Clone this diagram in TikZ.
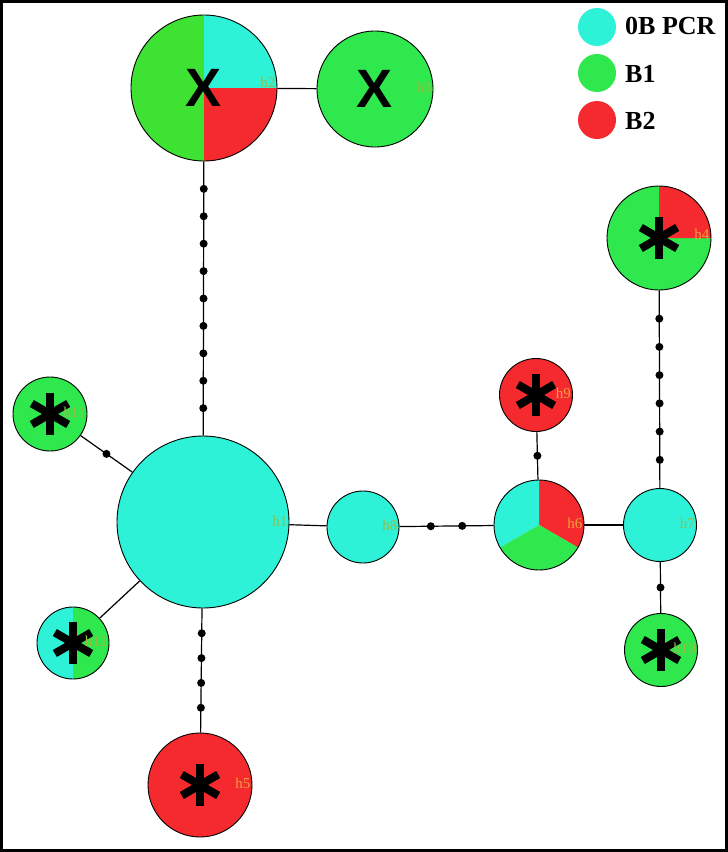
\documentclass[tikz,border=0pt]{standalone}
\usepackage{fontspec}
\setmainfont{Liberation Serif}
\newfontfamily\xfont{Liberation Sans}
\usetikzlibrary{calc}
\definecolor{cy}{HTML}{2EF2D8}
\definecolor{gr}{HTML}{2EE84E}
\definecolor{grb}{HTML}{3EE232}
\definecolor{rd}{HTML}{F42A2E}
\definecolor{lgr}{HTML}{9DBA40}
\definecolor{lor}{HTML}{F2A03C}
\tikzset{
  hap/.style={circle, draw=black, line width=0.9pt, inner sep=0pt},
  edge/.style={line width=1.2pt},
  mut/.style={circle, fill=black, inner sep=0pt, minimum size=8pt},
  lab/.style={anchor=east, font=\fontsize{15}{15}\selectfont, inner sep=0pt},
  leg/.style={anchor=west, font=\fontsize{26}{26}\selectfont\bfseries, inner sep=0pt},
  legdot/.style={circle, inner sep=0pt, minimum size=38pt},
  xmark/.style={font=\xfont\bfseries\fontsize{54}{54}\selectfont, inner sep=0pt},
  astarm/.style={line width=8pt},
}
\newcommand\pieslice[5]{\fill[#5] (#1) -- ++(#3:#2) arc[start angle=#3,end angle=#4,radius=#2] -- cycle;}
\newcommand\astmark[1]{%
  \foreach \a in {90,30,150}{\draw[astarm] ($(#1)+(\a:21pt)$) -- ($(#1)+(\a+180:21pt)$);}}
\begin{document}
\begin{tikzpicture}
\useasboundingbox (0,0) rectangle (728pt,-852pt);
\fill[white] (0,0) rectangle (728pt,-852pt);

% centres
\coordinate (c1) at (203pt,-522pt);
\coordinate (c2) at (204pt,-88pt);
\coordinate (c4) at (659pt,-238pt);
\coordinate (c6) at (539pt,-525pt);
\coordinate (c12) at (73pt,-643pt);

% pie slices
\pieslice{c2}{73pt}{90}{270}{grb}
\pieslice{c2}{73pt}{0}{90}{cy}
\pieslice{c2}{73pt}{-90}{0}{rd}
\pieslice{c4}{52pt}{90}{360}{gr}
\pieslice{c4}{52pt}{0}{90}{rd}
\pieslice{c6}{45pt}{-30}{90}{rd}
\pieslice{c6}{45pt}{90}{210}{cy}
\pieslice{c6}{45pt}{210}{330}{gr}
\pieslice{c12}{36pt}{90}{270}{cy}
\pieslice{c12}{36pt}{-90}{90}{gr}

% haplotype nodes
\node[hap, fill=cy, minimum size=172pt] (h1) at (c1) {};
\node[hap, minimum size=146pt] (h2) at (c2) {};
\node[hap, fill=gr, minimum size=116pt] (h3) at (375pt,-89pt) {};
\node[hap, minimum size=104pt] (h4) at (c4) {};
\node[hap, fill=rd, minimum size=104pt] (h5) at (200pt,-785pt) {};
\node[hap, minimum size=90pt] (h6) at (c6) {};
\node[hap, fill=cy, minimum size=73pt] (h7) at (660pt,-525pt) {};
\node[hap, fill=cy, minimum size=72pt] (h8) at (363pt,-527pt) {};
\node[hap, fill=rd, minimum size=73pt] (h9) at (536pt,-395pt) {};
\node[hap, fill=gr, minimum size=73pt] (h10) at (661pt,-650pt) {};
\node[hap, fill=gr, minimum size=74pt] (h11) at (50pt,-414pt) {};
\node[hap, minimum size=72pt] (h12) at (c12) {};

% connectors with mutation dots
\draw[edge] (h2) -- (h3);
\draw[edge] (h2) -- (h1)
  node[mut,pos=.1]{} node[mut,pos=.2]{} node[mut,pos=.3]{}
  node[mut,pos=.4]{} node[mut,pos=.5]{} node[mut,pos=.6]{}
  node[mut,pos=.7]{} node[mut,pos=.8]{} node[mut,pos=.9]{};
\draw[edge] (h4) -- (h7)
  node[mut,pos=1/7]{} node[mut,pos=2/7]{} node[mut,pos=3/7]{}
  node[mut,pos=4/7]{} node[mut,pos=5/7]{} node[mut,pos=6/7]{};
\draw[edge] (h1) -- (h5)
  node[mut,pos=.2]{} node[mut,pos=.4]{} node[mut,pos=.6]{} node[mut,pos=.8]{};
\draw[edge] (h1) -- (h8);
\draw[edge] (h8) -- (h6)
  node[mut,pos=1/3]{} node[mut,pos=2/3]{};
\draw[edge] (h6) -- (h9) node[mut,pos=.5]{};
\draw[edge] (h6) -- (h7);
\draw[edge] (h7) -- (h10) node[mut,pos=.5]{};
\draw[edge] (h11) -- (h1) node[mut,pos=.5]{};
\draw[edge] (h12) -- (h1);

% marks
\node[xmark] (x2) at (h2) {X};
\node[xmark] (x3) at (h3) {X};
\astmark{h4}
\astmark{h5}
\astmark{h9}
\astmark{h10}
\astmark{h11}
\astmark{h12}

% labels
\node[lab, text=lgr] (l1) at ($(h1.east)+(-2pt,1pt)$) {h1};
\node[lab, text=lgr] (l2) at ($(h2.east)+(-2pt,6pt)$) {h2};
\node[lab, text=lgr] (l3) at ($(h3.east)+(-2pt,2pt)$) {h3};
\node[lab, text=lor] (l4) at ($(h4.east)+(-2pt,4pt)$) {h4};
\node[lab, text=lor] (l5) at ($(h5.east)+(-2pt,2pt)$) {h5};
\node[lab, text=lor] (l6) at ($(h6.east)+(-2pt,2pt)$) {h6};
\node[lab, text=lgr] (l7) at ($(h7.east)+(-2pt,2pt)$) {h7};
\node[lab, text=lgr] (l8) at ($(h8.east)+(-2pt,2pt)$) {h8};
\node[lab, text=lor] (l9) at ($(h9.east)+(-2pt,2pt)$) {h9};
\node[lab, text=lgr] (l10) at ($(h10.east)+(-2pt,2pt)$) {h10};
\node[lab, text=lgr] (l11) at ($(h11.east)+(-2pt,2pt)$) {h11};
\node[lab, text=lgr] (l12) at ($(h12.east)+(-2pt,2pt)$) {h12};

% legend
\node[legdot, fill=cy] (lc) at (597pt,-27pt) {};
\node[legdot, fill=gr] (lg) at (597pt,-73pt) {};
\node[legdot, fill=rd] (lr) at (597pt,-120pt) {};
\node[leg] (tc) at (625pt,-26pt) {0B PCR};
\node[leg] (tg) at (625pt,-74pt) {B1};
\node[leg] (tr) at (625pt,-121pt) {B2};

% frame
\draw[line width=3pt] (1.5pt,-1.5pt) rectangle (726.5pt,-850.5pt);
\end{tikzpicture}
\end{document}
